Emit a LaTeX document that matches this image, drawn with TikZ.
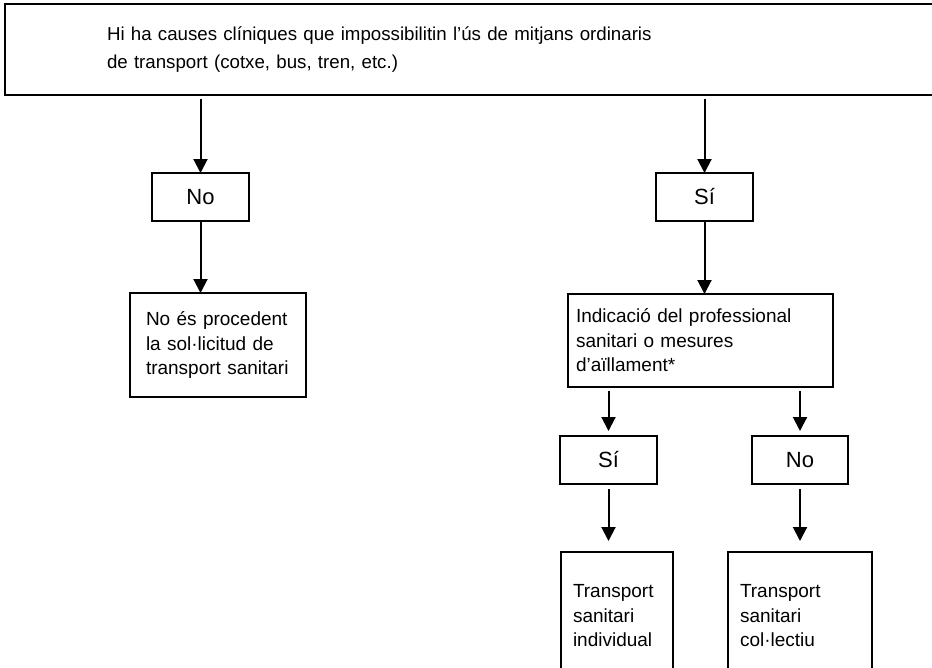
\documentclass[tikz,border=0pt]{standalone}
\usepackage{fontspec}
\setmainfont{Liberation Sans}
\usetikzlibrary{arrows.meta}
\begin{document}
\begin{tikzpicture}[x=1pt, y=-1pt, font=\fontsize{19}{24.5}\selectfont, line join=miter, >={Triangle[length=14pt,width=14pt]},
	caixa/.style={draw, line width=2pt, anchor=north west, outer sep=0pt, inner ysep=0pt},
	opcio/.style={caixa, inner xsep=0pt, minimum width=97pt, minimum height=48pt, font=\fontsize{22}{26}\selectfont},
	fletxa/.style={->, line width=2pt}]
	\def \xmin{0}
	\def \xmax{932}
	\def \ymin{0}
	\def \ymax{667}
	\useasboundingbox (\xmin,\ymin) rectangle (\xmax,\ymax);
	\clip (\xmin,\ymin) rectangle (\xmax,\ymax);
	% caixes
	\node[caixa, align=left, inner xsep=102pt, text width=736pt, minimum height=91pt, font=\fontsize{18.7}{28}\selectfont] (causes) at (5,4)
		{Hi ha causes clíniques que impossibilitin l’ús de mitjans ordinaris\\de transport (cotxe, bus, tren, etc.)};
	\node[opcio] (no) at (152,173) {No};
	\node[opcio] (si) at (656,173) {Sí};
	\node[caixa, align=left, inner xsep=16pt, text width=144pt, minimum height=104pt] (noproc) at (130,293)
		{No és procedent\\la sol·licitud de\\transport sanitari};
	\node[caixa, align=left, inner xsep=8pt, text width=249pt, minimum height=93pt] (indic) at (568,294)
		{Indicació del professional\\sanitari o mesures\\d’aïllament*};
	\node[opcio] (siind) at (560,436) {Sí};
	\node[opcio, minimum width=96pt] (nocol) at (752,436) {No};
	\node[caixa, align=left, inner xsep=12pt, text width=88pt, minimum height=128pt] (indiv) at (561,552)
		{Transport\\sanitari\\individual};
	\node[caixa, align=left, inner xsep=12pt, text width=120pt, minimum height=128pt] (colect) at (728,552)
		{Transport\\sanitari\\col·lectiu};
	% fletxes
	\draw[fletxa, shorten <=4pt] (causes.south -| no) -- (no.north);
	\draw[fletxa, shorten <=4pt] (causes.south -| si) -- (si.north);
	\draw[fletxa] (no.south) -- (no.south |- noproc.north);
	\draw[fletxa] (si.south) -- (si.south |- indic.north);
	\draw[fletxa, shorten <=4pt, shorten >=5pt] (indic.south -| siind) -- (siind.north);
	\draw[fletxa, shorten <=4pt, shorten >=5pt] (indic.south -| nocol) -- (nocol.north);
	\draw[fletxa, shorten <=5pt, shorten >=11pt] (siind.south) -- (siind.south |- indiv.north);
	\draw[fletxa, shorten <=5pt, shorten >=11pt] (nocol.south) -- (nocol.south |- colect.north);
\end{tikzpicture}
\end{document}
